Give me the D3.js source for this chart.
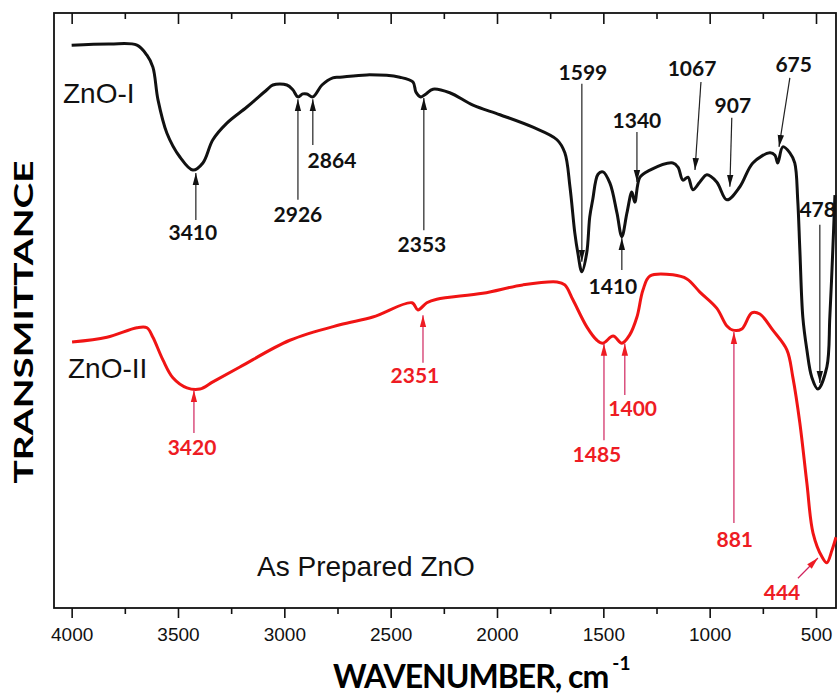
<!DOCTYPE html>
<html lang="en">
<head>
  <meta charset="UTF-8">
  <title>FTIR ZnO</title>
  <script src="https://d3js.org/d3.v7.min.js"></script>
  <style>
    html, body { margin: 0; padding: 0; background: #fff; }
    svg { display: block; }
    .tick text { font-family: "Liberation Sans", Arial, sans-serif; font-size: 19px; fill: #111; }
    .peak { font-family: Lato, "Open Sans", sans-serif; font-weight: 700; font-size: 21px; }
    .sample { font-family: "Liberation Sans", Arial, sans-serif; font-size: 28px; fill: #111; }
    .axis-title { font-family: Lato, sans-serif; font-weight: 700; fill: #000; }
  </style>
</head>
<body>
<svg width="837" height="696"></svg>
<script>
// wavenumber (cm-1) and transmittance (a.u.)
const zno1Wn = [4000, 3820, 3693, 3646, 3618, 3594, 3552, 3491, 3430, 3383, 3336, 3270, 3176, 3082, 3054, 2988, 2960, 2936, 2913, 2894, 2866, 2823, 2772, 2738, 2612, 2457, 2395, 2381, 2358, 2334, 2301, 2222, 2113, 1986, 1831, 1718, 1681, 1657, 1634, 1620, 1601, 1578, 1564, 1550, 1525, 1502, 1469, 1436, 1413, 1389, 1366, 1352, 1328, 1281, 1173, 1149, 1126, 1102, 1079, 1046, 1013, 967, 919, 858, 797, 717, 693, 680, 656, 623, 600, 586, 576, 562, 543, 520, 491, 449, 435, 421, 411];
const zno1T  = [94.6, 94.8, 94.6, 92.9, 90.9, 85.4, 79.8, 75.8, 73.6, 74.8, 78.7, 81.5, 84.2, 87.1, 87.9, 87.9, 87.1, 85.9, 86.4, 86.4, 85.9, 87.9, 89.1, 89.2, 89.6, 89.2, 88.4, 86.7, 85.9, 86.4, 87.2, 86.6, 84.5, 82.9, 80.8, 78.7, 76.5, 70.8, 63.0, 59.7, 56.5, 59.7, 65.7, 68.6, 72.9, 73.3, 71.4, 66.4, 62.4, 66.4, 69.9, 68.2, 72.4, 73.6, 74.8, 74.1, 71.9, 72.4, 70.3, 71.6, 72.8, 71.6, 68.6, 70.8, 74.8, 76.5, 76.1, 74.8, 77.5, 76.5, 74.8, 68.6, 60.2, 48.9, 43.4, 38.8, 36.8, 40.5, 48.9, 60.2, 69.4];

const zno2Wn = [3998, 3834, 3693, 3646, 3618, 3571, 3524, 3458, 3397, 3336, 3209, 2974, 2739, 2584, 2400, 2372, 2330, 2283, 2067, 1879, 1718, 1681, 1643, 1577, 1530, 1502, 1454, 1413, 1376, 1342, 1314, 1281, 1173, 1107, 1046, 967, 919, 891, 849, 802, 764, 703, 637, 609, 576, 543, 514, 472, 449, 425, 406];
const zno2T  = [44.7, 45.5, 47.1, 47.1, 45.5, 41.7, 38.7, 37.0, 36.8, 38.0, 40.5, 45.0, 47.6, 48.9, 51.3, 50.1, 51.3, 51.9, 52.9, 54.3, 54.8, 54.3, 51.8, 47.2, 45.0, 44.5, 45.7, 44.5, 45.9, 48.9, 53.4, 55.8, 56.0, 55.3, 53.1, 50.4, 47.4, 46.7, 46.9, 49.6, 49.4, 46.7, 43.4, 38.8, 31.1, 21.0, 12.6, 8.6, 7.6, 9.7, 11.9];

const majorTicks = [4000, 3500, 3000, 2500, 2000, 1500, 1000, 500];
const minorTicks = [3750, 3250, 2750, 2250, 1750, 1250, 750];

// peak labels: arrow tail (wn, T) -> tip (wn, T), text at (wn, T)
const peakLabels = ["3410", "2926", "2864", "2353", "1599", "1410", "1340", "1067", "907", "675", "478",
                    "3420", "2351", "1485", "1400", "881", "444"];
const peakSeries = [1, 1, 1, 1, 1, 1, 1, 1, 1, 1, 1, 2, 2, 2, 2, 2, 2];
const tailWn = [3416, 2936, 2866, 2344, 1601, 1413, 1342, 1041, 896, 623, 482, 3425, 2348, 1497, 1399, 886, 585];
const tailT  = [65.2, 68.6, 77.8, 63.5, 88.1, 56.8, 80.0, 88.4, 82.4, 89.1, 64.4, 29.4, 41.2, 28.2, 35.8, 14.3, 5.0];
const tipWn  = [3416, 2936, 2866, 2344, 1601, 1413, 1342, 1069, 905, 674, 482, 3425, 2348, 1497, 1399, 886, 491];
const tipT   = [73.1, 85.5, 85.5, 85.7, 58.2, 62.2, 71.6, 73.6, 70.8, 77.5, 37.8, 36.6, 49.2, 44.4, 44.4, 46.4, 8.4];
const textWn = [3430, 2936, 2776, 2353, 1596, 1455, 1342, 1083, 891, 605, 492, 3434, 2386, 1530, 1362, 882, 660];
const textT  = [61.8, 64.9, 73.9, 59.8, 88.7, 52.8, 80.7, 89.4, 83.2, 90.1, 65.7, 25.7, 37.8, 24.5, 32.3, 10.3, 1.3];

const svg = d3.select("svg");
const plot = {left: 54, right: 836, top: 13, bottom: 608};

const x = d3.scaleLinear().domain([4083, 406]).range([plot.left, plot.right]);
const y = d3.scaleLinear().domain([0, 100]).range([plot.bottom, plot.top]);

const colors = {1: "#111111", 2: "#f01414"};
const textColors = {1: "#111111", 2: "#ee1c24"};
const arrowLine = {1: "#222222", 2: "#d0245e"};

// arrow heads
const defs = svg.append("defs");
[1, 2].forEach(s => {
  defs.append("marker")
    .attr("id", "head" + s)
    .attr("viewBox", "0 0 12 8")
    .attr("refX", 12).attr("refY", 4)
    .attr("markerWidth", 12).attr("markerHeight", 8)
    .attr("markerUnits", "userSpaceOnUse")
    .attr("orient", "auto")
    .append("path")
    .attr("d", "M0,0.8 L12,4 L0,7.2 Z")
    .attr("fill", s === 1 ? "#111" : "#ee1c24");
});

// bottom axis, outward ticks
svg.append("g")
  .attr("transform", `translate(0,${plot.bottom})`)
  .call(d3.axisBottom(x).tickValues(majorTicks).tickSize(10).tickPadding(10).tickFormat(d3.format("d")))
  .call(g => g.select(".domain").remove())
  .call(g => g.selectAll("line").attr("stroke", "#111").attr("stroke-width", 1.6));

svg.append("g")
  .attr("transform", `translate(0,${plot.bottom})`)
  .call(d3.axisBottom(x).tickValues(minorTicks).tickSize(6).tickFormat(""))
  .call(g => g.select(".domain").remove())
  .call(g => g.selectAll("line").attr("stroke", "#111").attr("stroke-width", 1.6));

// top axis, inward ticks
svg.append("g")
  .attr("transform", `translate(0,${plot.top})`)
  .call(d3.axisBottom(x).tickValues(majorTicks).tickSize(11).tickFormat(""))
  .call(g => g.select(".domain").remove())
  .call(g => g.selectAll("line").attr("stroke", "#111").attr("stroke-width", 1.6));

svg.append("g")
  .attr("transform", `translate(0,${plot.top})`)
  .call(d3.axisBottom(x).tickValues(minorTicks).tickSize(6).tickFormat(""))
  .call(g => g.select(".domain").remove())
  .call(g => g.selectAll("line").attr("stroke", "#111").attr("stroke-width", 1.6));

// frame
svg.append("rect")
  .attr("x", plot.left).attr("y", plot.top)
  .attr("width", plot.right - plot.left).attr("height", plot.bottom - plot.top)
  .attr("fill", "none").attr("stroke", "#111").attr("stroke-width", 1.8);

// spectra
const line = d3.line()
  .x(d => x(d[0]))
  .y(d => y(d[1]))
  .curve(d3.curveCatmullRom.alpha(0.5));

svg.append("path")
  .datum(zno2Wn.map((w, i) => [w, zno2T[i]]))
  .attr("d", line)
  .attr("fill", "none").attr("stroke", colors[2]).attr("stroke-width", 3).attr("stroke-linejoin", "round");

svg.append("path")
  .datum(zno1Wn.map((w, i) => [w, zno1T[i]]))
  .attr("d", line)
  .attr("fill", "none").attr("stroke", colors[1]).attr("stroke-width", 3).attr("stroke-linejoin", "round");

// peak arrows and labels
const peaks = peakLabels.map((p, i) => ({
  label: p, s: peakSeries[i],
  x1: tailWn[i], y1: tailT[i], x2: tipWn[i], y2: tipT[i], tx: textWn[i], ty: textT[i]
}));

svg.selectAll(".arrow")
  .data(peaks)
  .enter()
  .append("line")
  .attr("class", "arrow")
  .attr("x1", d => x(d.x1)).attr("y1", d => y(d.y1))
  .attr("x2", d => x(d.x2)).attr("y2", d => y(d.y2))
  .attr("stroke", d => arrowLine[d.s])
  .attr("stroke-width", 1.2)
  .attr("marker-end", d => `url(#head${d.s})`);

svg.selectAll(".peak")
  .data(peaks)
  .enter()
  .append("text")
  .attr("class", "peak")
  .attr("x", d => x(d.tx))
  .attr("y", d => y(d.ty))
  .attr("text-anchor", "middle")
  .attr("fill", d => textColors[d.s])
  .text(d => d.label);

// sample names
svg.append("text").attr("class", "sample").attr("x", 63).attr("y", 103).text("ZnO-I");
svg.append("text").attr("class", "sample").attr("x", 68).attr("y", 378).text("ZnO-II");
svg.append("text").attr("class", "sample").attr("x", 257).attr("y", 576).attr("font-size", 32).text("As Prepared ZnO");

// axis titles
svg.append("text")
  .attr("class", "axis-title")
  .attr("transform", "translate(33,322) rotate(-90)")
  .attr("text-anchor", "middle")
  .attr("font-size", 27)
  .attr("textLength", 323)
  .attr("lengthAdjust", "spacingAndGlyphs")
  .text("TRANSMITTANCE");

const xTitle = svg.append("text")
  .attr("class", "axis-title")
  .attr("x", 333).attr("y", 688)
  .attr("font-size", 32)
  .attr("letter-spacing", "-1px");
xTitle.append("tspan")
  .text("WAVENUMBER, cm");
xTitle.append("tspan")
  .attr("dx", 4).attr("dy", -18)
  .attr("font-size", 19)
  .attr("letter-spacing", "0px")
  .text("-1");
</script>
</body>
</html>
